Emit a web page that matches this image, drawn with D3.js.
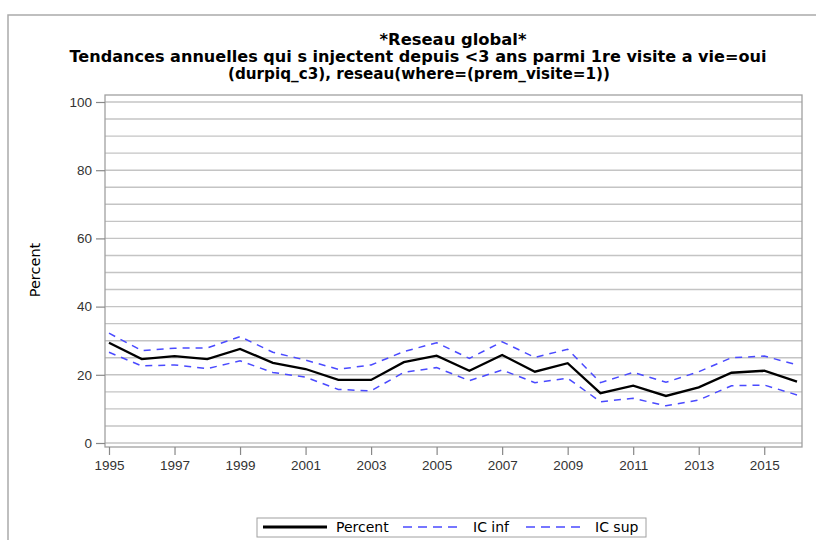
<!DOCTYPE html>
<html>
<head>
<meta charset="utf-8">
<script src="https://cdn.jsdelivr.net/npm/d3@7"></script>
<style>
  body { margin: 0; background: #fff; }
  svg { display: block; font-family: "DejaVu Sans", sans-serif; }
  .title { font-weight: bold; font-size: 15.5px; fill: #000; text-anchor: middle; }
  .tick text { font-size: 13.5px; fill: #333; }
</style>
</head>
<body>
<svg id="chart" width="816" height="540"></svg>
<script>
// annual values
var years = [1995, 1996, 1997, 1998, 1999, 2000, 2001, 2002, 2003, 2004, 2005,
             2006, 2007, 2008, 2009, 2010, 2011, 2012, 2013, 2014, 2015, 2016];
var percent = [29.4, 24.6, 25.5, 24.6, 27.6, 23.5, 21.7, 18.5, 18.5, 23.7, 25.6,
               21.2, 25.8, 20.9, 23.4, 14.6, 16.8, 13.8, 16.3, 20.6, 21.2, 18.0];
var icInf = [26.6, 22.6, 22.9, 21.8, 24.1, 20.7, 19.3, 15.7, 15.3, 20.7, 22.1,
             18.3, 21.4, 17.7, 19.0, 12.1, 13.1, 10.9, 12.6, 16.8, 17.0, 14.1];
var icSup = [32.2, 27.1, 27.8, 27.9, 31.2, 26.6, 24.3, 21.6, 22.9, 26.8, 29.4,
             24.8, 29.7, 25.1, 27.5, 17.7, 20.7, 17.8, 20.9, 25.0, 25.5, 22.9];
var xTicks = [1995, 1997, 1999, 2001, 2003, 2005, 2007, 2009, 2011, 2013, 2015];
var yTicks = [0, 20, 40, 60, 80, 100];
var titleLines = ["*Reseau global*",
  "Tendances annuelles qui s injectent depuis <3 ans parmi 1re visite a vie=oui",
  "(durpiq_c3), reseau(where=(prem_visite=1))"];

var svg = d3.select("#chart");
var frame = { left: 105, right: 802, top: 95, bottom: 447 };

var x = d3.scaleLinear().domain([1995, 2016]).range([109, 797]);
var y = d3.scaleLinear().domain([0, 100]).range([443, 102]);

// outer border
svg.append("path")
  .attr("d", "M8,540 V15 H816")
  .attr("fill", "none").attr("stroke", "#aaa").attr("stroke-width", 1.5);

// titles (each line sits a bit differently in the original)
var titlePos = [{ cx: 453, y: 45, w: 147 }, { cx: 418, y: 62, w: 697 }, { cx: 419, y: 79, w: 382 }];
svg.selectAll(".title").data(titleLines).enter()
  .append("text").attr("class", "title")
  .attr("x", (d, i) => titlePos[i].cx).attr("y", (d, i) => titlePos[i].y)
  .attr("textLength", (d, i) => titlePos[i].w)
  .attr("lengthAdjust", "spacingAndGlyphs")
  .text(d => d);

// gridlines every 5
svg.append("g").selectAll("line")
  .data(d3.range(0, 101, 5)).enter()
  .append("line")
  .attr("x1", frame.left).attr("x2", frame.right)
  .attr("y1", d => y(d)).attr("y2", d => y(d))
  .attr("stroke", "#c4c4c4").attr("stroke-width", 1.4);

// frame
svg.append("rect")
  .attr("x", frame.left).attr("y", frame.top)
  .attr("width", frame.right - frame.left).attr("height", frame.bottom - frame.top)
  .attr("fill", "none").attr("stroke", "#a0a0a0").attr("stroke-width", 1.3);

// axes
var yAxis = svg.append("g")
  .attr("transform", "translate(" + frame.left + ",0)")
  .call(d3.axisLeft(y).tickValues(yTicks).tickSize(9).tickPadding(4));
var xAxis = svg.append("g")
  .attr("transform", "translate(0," + frame.bottom + ")")
  .call(d3.axisBottom(x).tickValues(xTicks).tickFormat(d3.format("d")).tickSize(8).tickPadding(5));
[yAxis, xAxis].forEach(function(a) {
  a.select(".domain").remove();
  a.selectAll(".tick line").attr("stroke", "#888").attr("stroke-width", 1.2);
  a.selectAll(".tick text").attr("font-family", null).attr("font-size", null);
});

// y label
svg.append("text")
  .attr("transform", "translate(40,270) rotate(-90)")
  .attr("text-anchor", "middle")
  .style("font-size", "14.5px").attr("fill", "#000")
  .text("Percent");

// series
var series = [
  { name: "Percent", values: percent, color: "#000", dash: null, width: 2.3 },
  { name: "IC inf", values: icInf, color: "#4a4aff", dash: "7,6", width: 1.5 },
  { name: "IC sup", values: icSup, color: "#4a4aff", dash: "7,6", width: 1.5 }
];
var line = d3.line().x((d, i) => x(years[i])).y(d => y(d));

svg.selectAll(".series").data(series.slice().reverse()).enter()
  .append("path").attr("class", "series")
  .attr("d", d => line(d.values))
  .attr("fill", "none")
  .attr("stroke", d => d.color)
  .attr("stroke-width", d => d.width)
  .attr("stroke-dasharray", d => d.dash);

// legend
var legend = svg.append("g");
legend.append("rect")
  .attr("x", 257).attr("y", 518).attr("width", 389).attr("height", 19)
  .attr("fill", "#fff").attr("stroke", "#a0a0a0").attr("stroke-width", 1);
var legendPos = [{ x1: 263, x2: 327, tx: 336 }, { x1: 403, x2: 463, tx: 473 }, { x1: 526, x2: 584, tx: 595 }];
var items = legend.selectAll(".item").data(series).enter().append("g");
items.append("line")
  .attr("x1", (d, i) => legendPos[i].x1).attr("x2", (d, i) => legendPos[i].x2)
  .attr("y1", 527).attr("y2", 527)
  .attr("stroke", d => d.color)
  .attr("stroke-width", (d, i) => i == 0 ? 3 : 1.3)
  .attr("stroke-dasharray", d => d.dash ? "9,6" : null);
items.append("text")
  .attr("x", (d, i) => legendPos[i].tx).attr("y", 532)
  .style("font-size", "14px").attr("fill", "#000")
  .text(d => d.name);
</script>
</body>
</html>
